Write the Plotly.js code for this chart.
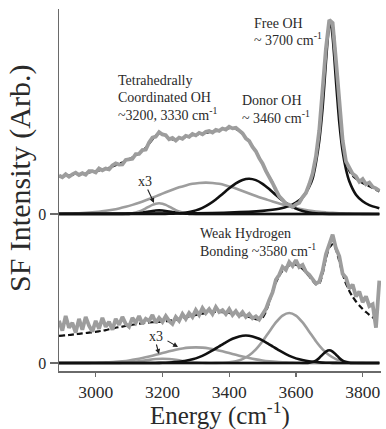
<!DOCTYPE html>
<html>
<head>
<meta charset="utf-8">
<script src="https://cdn.plot.ly/plotly-3.0.1.min.js"></script>
<style>
  html, body { margin: 0; padding: 0; background: #fff; }
  #chart { width: 386px; height: 429px; }
</style>
</head>
<body>
<div id="chart"></div>
<script>
// ---------- shared energy axis (cm-1) for measured spectra and total fits ----------
const energy = [2890,2900,2910,2920,2930,2940,2950,2960,2970,2980,2990,3000,3010,3020,3030,3040,3050,3060,3070,3080,
  3090,3100,3110,3120,3130,3140,3150,3160,3170,3180,3190,3200,3210,3220,3230,3240,3250,3260,3270,3280,
  3290,3300,3310,3320,3330,3340,3350,3360,3370,3380,3390,3400,3410,3420,3430,3440,3450,3460,3470,3480,
  3490,3500,3510,3520,3530,3540,3550,3560,3570,3580,3590,3600,3610,3620,3630,3640,3650,3660,3670,3680,
  3690,3700,3710,3720,3730,3740,3750,3760,3770,3780,3790,3800,3810,3820,3830,3840,3850];

// ---------- upper spectrum ----------
const topData = [0.196,0.188,0.203,0.190,0.202,0.211,0.199,0.208,0.200,0.219,0.219,0.212,0.233,0.223,0.232,0.228,0.248,0.258,0.252,0.253,
  0.276,0.281,0.282,0.306,0.307,0.326,0.329,0.365,0.390,0.395,0.418,0.406,0.402,0.381,0.388,0.375,0.390,0.384,0.399,0.394,
  0.408,0.401,0.414,0.407,0.419,0.423,0.416,0.429,0.424,0.436,0.431,0.445,0.437,0.440,0.423,0.412,0.386,0.372,0.342,0.320,
  0.285,0.258,0.220,0.193,0.158,0.123,0.090,0.073,0.052,0.047,0.036,0.049,0.057,0.086,0.107,0.152,0.206,0.294,0.427,0.636,
  0.845,0.990,0.975,0.785,0.565,0.376,0.268,0.238,0.205,0.192,0.165,0.178,0.152,0.160,0.138,0.131,0.119];

const topFit = [0.190,0.192,0.194,0.197,0.199,0.201,0.204,0.206,0.209,0.212,0.215,0.218,0.222,0.226,0.231,0.236,0.242,0.249,0.256,0.263,
  0.271,0.279,0.288,0.298,0.309,0.322,0.338,0.358,0.380,0.400,0.410,0.408,0.399,0.388,0.381,0.380,0.383,0.388,0.393,0.398,
  0.402,0.405,0.408,0.411,0.414,0.417,0.420,0.423,0.427,0.431,0.435,0.438,0.439,0.434,0.424,0.410,0.390,0.370,0.345,0.318,
  0.288,0.255,0.222,0.190,0.160,0.120,0.092,0.070,0.055,0.044,0.038,0.045,0.060,0.082,0.110,0.148,0.210,0.290,0.430,0.630,
  0.840,0.975,0.960,0.780,0.570,0.370,0.260,0.220,0.195,0.180,0.168,0.158,0.150,0.142,0.133,0.124,0.115];

// ~3200 cm-1 band, and the same band scaled x3
const top3200E = [2890,3080,3090,3100,3110,3120,3130,3140,3150,3160,3170,3180,3190,3200,3210,3220,3230,3240,3250,3260,3270,3280,3290,3300,3850];
const top3200 = [0,0.0001,0.0003,0.0007,0.0013,0.0025,0.0042,0.0066,0.0095,0.0127,0.0156,0.0176,0.0183,0.0176,0.0156,0.0127,0.0095,0.0066,0.0042,0.0025,0.0013,0.0007,0.0003,0.0001,0];
const top3200x3 = [0,0.0004,0.001,0.002,0.004,0.0074,0.0127,0.0198,0.0286,0.038,0.0468,0.0528,0.055,0.0528,0.0468,0.038,0.0286,0.0198,0.0127,0.0074,0.004,0.002,0.001,0.0004,0];

// ~3330 cm-1 band
const top3330E = [2890,2910,2930,2950,2970,2990,3010,3030,3050,3070,3090,3110,3130,3150,3170,3190,3210,3230,3250,3270,
  3290,3310,3330,3350,3370,3390,3410,3430,3450,3470,3490,3510,3530,3550,3570,3590,3610,3630,3650,3670,
  3690,3710,3730,3750,3770,3790,3810,3830,3850];
const top3330 = [0.0011,0.0018,0.0027,0.004,0.0059,0.0083,0.0117,0.0162,0.0216,0.0285,0.0368,0.0466,0.0576,0.070,0.0832,0.0971,0.111,0.124,0.136,0.146,
  0.154,0.158,0.160,0.158,0.154,0.146,0.136,0.124,0.111,0.098,0.086,0.075,0.064,0.054,0.044,0.035,0.027,0.020,0.015,0.011,
  0.008,0.0055,0.0037,0.0025,0.0016,0.001,0.0006,0.0003,0.0002];

// donor OH, ~3460 cm-1
const top3460E = [2890,3200,3220,3240,3260,3280,3300,3320,3340,3360,3380,3400,3420,3440,3460,3480,3500,3520,3540,3560,3580,3600,3620,3640,3660,3680,3700,3850];
const top3460 = [0,0.0005,0.0011,0.0024,0.0052,0.0101,0.0185,0.0315,0.050,0.074,0.102,0.131,0.156,0.174,0.180,0.173,0.154,0.127,0.097,0.0686,0.045,0.0272,0.0153,0.0079,0.0038,0.0017,0.0007,0];

// free OH, ~3700 cm-1
const top3700E = [2890,3100,3300,3400,3500,3550,3580,3600,3620,3640,3650,3660,3670,3680,3690,3695,3700,3705,3710,3715,3720,3730,3740,3750,3760,3780,3800,3820,3850];
const top3700 = [0.001,0.0018,0.004,0.0071,0.016,0.0265,0.0413,0.058,0.0843,0.140,0.181,0.262,0.373,0.541,0.776,0.886,0.957,0.963,0.904,0.800,0.680,0.468,0.320,0.228,0.167,0.0987,0.0652,0.0455,0.0294];

// ---------- lower spectrum ----------
const botData = [0.215,0.165,0.240,0.180,0.205,0.155,0.225,0.170,0.235,0.190,0.160,0.215,0.175,0.230,0.185,0.210,0.170,0.225,0.195,0.235,
  0.200,0.185,0.230,0.205,0.240,0.200,0.225,0.215,0.245,0.205,0.230,0.210,0.240,0.215,0.200,0.235,0.215,0.250,0.225,0.255,
  0.235,0.270,0.245,0.280,0.255,0.275,0.250,0.285,0.260,0.270,0.250,0.275,0.245,0.265,0.240,0.260,0.235,0.250,0.228,0.238,
  0.222,0.245,0.275,0.320,0.360,0.425,0.450,0.490,0.475,0.515,0.495,0.525,0.490,0.500,0.465,0.450,0.425,0.405,0.415,0.470,
  0.555,0.600,0.655,0.585,0.545,0.455,0.435,0.380,0.400,0.340,0.365,0.310,0.340,0.290,0.300,0.180,0.420];

const botFit = [0.138,0.140,0.141,0.143,0.145,0.147,0.149,0.151,0.153,0.155,0.157,0.159,0.162,0.165,0.168,0.172,0.176,0.180,0.183,0.186,
  0.189,0.192,0.195,0.198,0.201,0.203,0.205,0.207,0.208,0.209,0.210,0.211,0.213,0.215,0.218,0.221,0.225,0.229,0.233,0.237,
  0.241,0.245,0.249,0.252,0.255,0.258,0.260,0.261,0.261,0.260,0.258,0.256,0.253,0.250,0.247,0.243,0.239,0.235,0.230,0.224,
  0.222,0.232,0.262,0.310,0.365,0.410,0.445,0.470,0.487,0.498,0.503,0.502,0.494,0.480,0.462,0.442,0.420,0.402,0.405,0.455,
  0.535,0.590,0.605,0.580,0.520,0.455,0.405,0.368,0.338,0.314,0.294,0.276,0.260,0.246,0.233,0.221,0.210];

// ~3200 cm-1 band (x3)
const bot3200E = [2890,3040,3060,3080,3100,3120,3140,3160,3180,3200,3220,3240,3260,3280,3300,3320,3340,3360,3850];
const bot3200x3 = [0,0.0001,0.0004,0.0012,0.003,0.0061,0.0107,0.016,0.0203,0.022,0.0203,0.016,0.0107,0.0061,0.003,0.0012,0.0004,0.0001,0];

// ~3300 cm-1 band (x3)
const bot3300E = [2890,2980,3000,3020,3040,3060,3080,3100,3120,3140,3160,3180,3200,3220,3240,3260,3280,3300,3320,3340,
  3360,3380,3400,3420,3440,3460,3480,3500,3520,3540,3560,3580,3600,3620,3850];
const bot3300x3 = [0,0.0008,0.0014,0.0023,0.0038,0.0058,0.0089,0.013,0.0184,0.025,0.0329,0.0417,0.0508,0.0598,0.0679,0.0744,0.0786,0.080,0.0786,0.0744,
  0.0679,0.0598,0.0508,0.0417,0.0329,0.025,0.0184,0.013,0.0089,0.0058,0.0038,0.0023,0.0014,0.0008,0];

// ~3450 cm-1 band
const bot3450E = [2890,3170,3190,3210,3230,3250,3270,3290,3310,3330,3350,3370,3390,3410,3430,3450,3470,3490,3510,3530,
  3550,3570,3590,3610,3630,3650,3670,3690,3710,3730,3850];
const bot3450 = [0,0.0003,0.0007,0.0015,0.0032,0.0062,0.0112,0.0189,0.0302,0.0455,0.0641,0.085,0.1057,0.1235,0.1357,0.140,0.1357,0.1235,0.1057,0.085,
  0.0641,0.0455,0.0302,0.0189,0.0112,0.0062,0.0032,0.0015,0.0007,0.0003,0];

// weak hydrogen bonding, ~3580 cm-1
const bot3580E = [2890,3340,3360,3380,3400,3420,3440,3460,3480,3500,3520,3540,3560,3580,3600,3620,3640,3660,3680,3700,
  3720,3740,3760,3780,3800,3820,3850];
const bot3580 = [0,0.0001,0.0005,0.0014,0.0038,0.0092,0.0199,0.0393,0.0694,0.111,0.160,0.207,0.242,0.255,0.242,0.207,0.160,0.111,0.0694,0.0393,
  0.0199,0.0092,0.0038,0.0014,0.0005,0.0001,0];

// free OH, ~3700 cm-1
const bot3700E = [2890,3630,3640,3650,3660,3670,3680,3690,3700,3710,3720,3730,3740,3750,3760,3770,3850];
const bot3700 = [0,0.0004,0.0016,0.0049,0.0124,0.0257,0.043,0.0586,0.065,0.0586,0.043,0.0257,0.0124,0.0049,0.0016,0.0004,0];

const xTicks = [3000, 3200, 3400, 3600, 3800];

// ---------- styling ----------
const GRAY = '#9d9d9d';
const BLACK = '#111111';
const SERIF = 'Liberation Serif, Times New Roman, serif';

function comp(x, y, color, yaxis) {
  return { x: x, y: y, xaxis: yaxis === 'y2' ? 'x2' : 'x', yaxis: yaxis, type: 'scatter', mode: 'lines',
           line: { color: color, width: 2.6, shape: 'spline', smoothing: 0.6 }, hoverinfo: 'skip', showlegend: false };
}
function fit(x, y, yaxis) {
  return { x: x, y: y, xaxis: yaxis === 'y2' ? 'x2' : 'x', yaxis: yaxis, type: 'scatter', mode: 'lines',
           line: { color: BLACK, width: 2.2, dash: '6px,3px', shape: 'spline', smoothing: 0.5 }, hoverinfo: 'skip', showlegend: false };
}
function meas(x, y, yaxis) {
  return { x: x, y: y, xaxis: yaxis === 'y2' ? 'x2' : 'x', yaxis: yaxis, type: 'scatter', mode: 'lines',
           line: { color: GRAY, width: 3.8 }, hoverinfo: 'skip', showlegend: false };
}

// total fits sit underneath the measured spectra
const traces = [
  // upper
  comp(top3330E, top3330, GRAY, 'y2'),
  comp(top3200E, top3200x3, GRAY, 'y2'),
  comp(top3200E, top3200, BLACK, 'y2'),
  comp(top3460E, top3460, BLACK, 'y2'),
  comp(top3700E, top3700, BLACK, 'y2'),
  fit(energy, topFit, 'y2'),
  meas(energy, topData, 'y2'),
  // lower
  comp(bot3200E, bot3200x3, GRAY, 'y'),
  comp(bot3300E, bot3300x3, GRAY, 'y'),
  comp(bot3580E, bot3580, GRAY, 'y'),
  comp(bot3450E, bot3450, BLACK, 'y'),
  comp(bot3700E, bot3700, BLACK, 'y'),
  fit(energy, botFit, 'y'),
  meas(energy, botData, 'y')
];

// ---------- layout ----------
const W = 386, H = 429, ML = 59, MR = 5, MT = 9, MB = 58;
const PW = W - ML - MR, PH = H - MT - MB;
const split = (371 - 217) / PH;          // boundary between lower and upper panel
const px = v => (v - ML) / PW;           // pixel -> paper (x)
const py = v => 1 - (v - MT) / PH;       // pixel -> paper (y)

const AX = '#6a6a6a';
const TXT = '#2a2a2a';

function label(text, x, y, size, anchor) {
  return { text: text, xref: 'paper', yref: 'paper', x: px(x), y: py(y), xanchor: anchor || 'left', yanchor: 'middle',
           showarrow: false, font: { family: SERIF, size: size || 14, color: TXT } };
}
function arrow(x0, y0, x1, y1) {
  return { text: '', xref: 'paper', yref: 'paper', x: px(x1), y: py(y1), ax: x0 - x1, ay: y0 - y1,
           axref: 'pixel', ayref: 'pixel', showarrow: true, arrowhead: 2, arrowsize: 0.9, arrowwidth: 1.1,
           arrowcolor: '#222', standoff: 0, startstandoff: 0 };
}

const layout = {
  width: W, height: H,
  margin: { l: ML, r: MR, t: MT, b: MB, pad: 0 },
  paper_bgcolor: '#fff', plot_bgcolor: '#fff',
  showlegend: false,
  xaxis: {
    range: [2890, 3855], anchor: 'y', domain: [0, 1],
    showline: true, linecolor: AX, linewidth: 1.5, mirror: false,
    showgrid: false, zeroline: false,
    ticks: 'outside', ticklen: 4, tickwidth: 1.3, tickcolor: AX,
    tickvals: xTicks, ticktext: xTicks.map(String),
    tickfont: { family: SERIF, size: 17.5, color: TXT }
  },
  xaxis2: {
    range: [2890, 3855], anchor: 'y2', matches: 'x', domain: [0, 1],
    showline: false, showgrid: false, zeroline: false, showticklabels: false, ticks: ''
  },
  yaxis: {
    domain: [0, split], range: [-0.0408, 0.745], anchor: 'x',
    showline: true, linecolor: AX, linewidth: 1.5,
    showgrid: false, zeroline: false,
    ticks: 'outside', ticklen: 8, tickwidth: 1.3, tickcolor: AX,
    tickvals: [0], ticktext: ['0'],
    tickfont: { family: SERIF, size: 16, color: TXT }
  },
  yaxis2: {
    domain: [split, 1], range: [-0.0153, 1.046], anchor: 'x2',
    showline: true, linecolor: AX, linewidth: 1.5,
    showgrid: false, zeroline: false,
    ticks: 'outside', ticklen: 8, tickwidth: 1.3, tickcolor: AX,
    tickvals: [0], ticktext: ['0'],
    tickfont: { family: SERIF, size: 16, color: TXT }
  },
  annotations: [
    // upper panel labels
    label('Free OH', 252, 23),
    label('~ 3700 cm<sup>-1</sup>', 252, 39),
    label('Tetrahedrally', 116, 80),
    label('Coordinated OH', 116, 97),
    label('~3200, 3330 cm<sup>-1</sup>', 116, 114),
    label('Donor OH', 240, 100),
    label('~ 3460 cm<sup>-1</sup>', 240, 117),
    label('x3', 145, 181, 14, 'center'),
    arrow(147, 188, 154, 203),
    // lower panel labels
    label('Weak Hydrogen', 198, 233),
    label('Bonding ~3580 cm<sup>-1</sup>', 198, 250),
    label('x3', 156, 336, 14, 'center'),
    arrow(156, 343, 159, 354),
    arrow(166, 340, 178, 347),
    // axis titles
    { text: 'Energy (cm<sup>-1</sup>)', xref: 'paper', yref: 'paper', x: px(220), y: py(413.5),
      xanchor: 'center', yanchor: 'middle', showarrow: false,
      font: { family: SERIF, size: 25, color: TXT } },
    { text: 'SF Intensity (Arb.)', xref: 'paper', yref: 'paper', x: px(20), y: py(178),
      xanchor: 'center', yanchor: 'middle', textangle: -90, showarrow: false,
      font: { family: SERIF, size: 30, color: TXT } }
  ]
};

Plotly.newPlot('chart', traces, layout, { staticPlot: true, displayModeBar: false });
</script>
</body>
</html>
